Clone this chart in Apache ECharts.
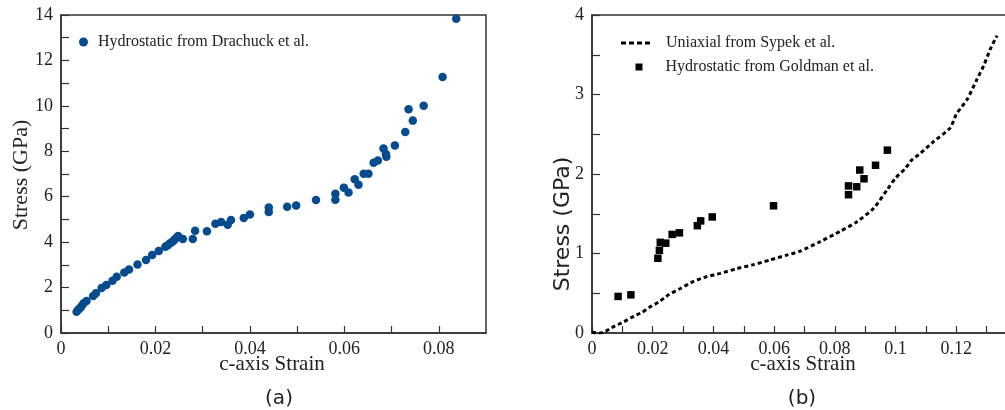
<!DOCTYPE html>
<html><head><meta charset="utf-8">
<script src="https://cdn.jsdelivr.net/npm/echarts@6/dist/echarts.min.js"></script>
<style>html,body{margin:0;padding:0;background:#fff}#c{width:1005px;height:410px}</style>
</head><body><div id="c"></div>
<script>
// Panel (a): hydrostatic data from Drachuck et al.
const drachuckStrain = [0.0033,0.0037,0.0041,0.0044,0.0048,0.0054,0.0068,0.0074,0.0086,0.0096,0.0109,0.0118,0.0134,0.0144,0.0162,0.0180,0.0193,0.0207,0.0221,0.0226,0.0231,0.0236,0.0240,0.0244,0.0248,0.0258,0.0279,0.0284,0.0309,0.0327,0.0339,0.0353,0.0360,0.0387,0.0400,0.0440,0.0440,0.0479,0.0498,0.0540,0.0581,0.0581,0.0599,0.0609,0.0622,0.0630,0.0641,0.0651,0.0662,0.0671,0.0683,0.0688,0.0689,0.0707,0.0729,0.0736,0.0745,0.0768,0.0808,0.0837];
const drachuckStress = [0.94,1.04,1.11,1.20,1.31,1.41,1.63,1.75,1.98,2.11,2.30,2.48,2.66,2.80,3.02,3.21,3.43,3.61,3.80,3.86,3.95,4.02,4.10,4.18,4.27,4.14,4.14,4.50,4.48,4.81,4.89,4.77,4.98,5.06,5.22,5.53,5.33,5.56,5.61,5.86,6.13,5.87,6.40,6.19,6.77,6.53,7.01,7.01,7.50,7.59,8.12,7.88,7.76,8.26,8.85,9.85,9.35,10.00,11.27,13.83];

// Panel (b): uniaxial curve from Sypek et al.
const sypekStrain = [0,0.0027,0.0044,0.0071,0.0104,0.0137,0.0165,0.0192,0.0220,0.0252,0.0291,0.0335,0.0379,0.0423,0.0478,0.0532,0.0587,0.0642,0.0686,0.0752,0.0818,0.0873,0.0928,0.0972,0.1000,0.1032,0.1054,0.1082,0.1126,0.1180,0.1200,0.1236,0.1268,0.1290,0.1312,0.1334];
const sypekStress = [0.01,0.00,0.02,0.08,0.14,0.21,0.26,0.33,0.39,0.48,0.56,0.65,0.71,0.75,0.81,0.86,0.92,0.98,1.03,1.15,1.28,1.40,1.57,1.80,1.95,2.07,2.18,2.26,2.41,2.58,2.75,2.94,3.19,3.36,3.57,3.74];

// Panel (b): hydrostatic data from Goldman et al.
const goldmanStrain = [0.0086,0.0128,0.0217,0.0222,0.0225,0.0243,0.0264,0.0288,0.0347,0.0358,0.0396,0.0598,0.0845,0.0845,0.0872,0.0896,0.0882,0.0934,0.0973];
const goldmanStress = [0.46,0.48,0.94,1.04,1.14,1.13,1.24,1.26,1.35,1.41,1.46,1.60,1.74,1.85,1.84,1.94,2.05,2.11,2.30];

const zip = (a, b) => a.map((v, i) => [v, b[i]]);

const SERIF = '"Liberation Serif", "Times New Roman", serif';
const SANS = '"DejaVu Sans", sans-serif';
const AX = '#333';
const DASH_ICON = 'path://M0,0h5v3h-5zM8,0h5v3h-5zM16,0h5v3h-5zM24,0h5v3h-5z';

function xAxisCfg(gridIndex, max) {
  return {
    type: 'value', gridIndex, min: 0, max, interval: 0.01,
    axisLine: { show: true, onZero: false, lineStyle: { color: AX, width: 1.5 } },
    axisTick: { show: true, inside: true, length: 7, lineStyle: { color: AX, width: 1.2 } },
    splitLine: { show: false },
    axisLabel: {
      margin: 7, color: '#222', fontFamily: SERIF, fontSize: 18,
      showMaxLabel: false,
      formatter: v => {
        const k = Math.round(v * 100);
        if (Math.abs(v * 100 - k) > 1e-6 || k % 2 !== 0) return '';
        return String(parseFloat(v.toFixed(2)));
      }
    }
  };
}
function yAxisCfg(gridIndex, max, interval, labelEvery) {
  return {
    type: 'value', gridIndex, min: 0, max, interval,
    axisLine: { show: true, onZero: false, lineStyle: { color: AX, width: 1.5 } },
    axisTick: { show: true, inside: true, length: 8, lineStyle: { color: AX, width: 1.2 } },
    splitLine: { show: false },
    axisLabel: {
      margin: 8, color: '#222', fontFamily: SERIF, fontSize: 18,
      formatter: v => {
        const r = Math.round(v / labelEvery);
        if (Math.abs(v / labelEvery - r) > 1e-6) return '';
        return String(r * labelEvery);
      }
    }
  };
}

const legendText = { fontFamily: SERIF, fontSize: 16, color: '#222' };

const chart = echarts.init(document.getElementById('c'), null, { renderer: 'canvas' });
chart.setOption({
  backgroundColor: '#fff',
  animation: false,
  grid: [
    { left: 61, top: 15, width: 425, height: 318, outerBoundsMode: 'none', show: true, borderColor: AX, borderWidth: 1.5, backgroundColor: 'transparent' },
    { left: 592, top: 15, width: 425, height: 318, outerBoundsMode: 'none', show: true, borderColor: AX, borderWidth: 1.5, backgroundColor: 'transparent' }
  ],
  xAxis: [xAxisCfg(0, 0.09), xAxisCfg(1, 0.14)],
  yAxis: [yAxisCfg(0, 14, 1, 2), yAxisCfg(1, 4, 0.5, 1)],
  legend: [
    {
      left: 74, top: 29, orient: 'vertical',
      itemWidth: 9, itemHeight: 9,
      textStyle: Object.assign({ padding: [0, 0, 0, 5] }, legendText),
      data: [{ name: 'Hydrostatic from Drachuck et al.', icon: 'circle' }]
    },
    {
      left: 616, top: 30, orient: 'vertical',
      itemWidth: 29, itemHeight: 3,
      textStyle: Object.assign({ padding: [0, 0, 0, 11] }, legendText),
      data: [{ name: 'Uniaxial from Sypek et al.', icon: DASH_ICON, itemStyle: { color: '#000' } }]
    },
    {
      left: 630.5, top: 54, orient: 'vertical',
      itemWidth: 7, itemHeight: 7,
      textStyle: Object.assign({ padding: [0, 0, 0, 18] }, legendText),
      data: [{ name: 'Hydrostatic from Goldman et al.', icon: 'rect' }]
    }
  ],
  series: [
    {
      name: 'Hydrostatic from Drachuck et al.', type: 'scatter', xAxisIndex: 0, yAxisIndex: 0,
      symbol: 'circle', symbolSize: 8.5, itemStyle: { color: '#054b8e', opacity: 1 },
      data: zip(drachuckStrain, drachuckStress)
    },
    {
      name: 'Uniaxial from Sypek et al.', type: 'line', xAxisIndex: 1, yAxisIndex: 1,
      showSymbol: false, symbol: 'none', smooth: 0.2,
      lineStyle: { color: '#000', width: 3, type: [4, 3] },
      itemStyle: { color: '#000' },
      data: zip(sypekStrain, sypekStress)
    },
    {
      name: 'Hydrostatic from Goldman et al.', type: 'scatter', xAxisIndex: 1, yAxisIndex: 1,
      symbol: 'rect', symbolSize: 7.5, itemStyle: { color: '#000', opacity: 1 },
      data: zip(goldmanStrain, goldmanStress)
    }
  ],
  graphic: [
    { type: 'text', x: 21, y: 175, rotation: Math.PI / 2, style: { text: 'Stress (GPa)', font: '22px ' + SERIF, fill: '#222', align: 'center', verticalAlign: 'middle' } },
    { type: 'text', x: 563, y: 224, rotation: Math.PI / 2, style: { text: 'Stress (GPa)', font: '22px ' + SANS, fill: '#222', align: 'center', verticalAlign: 'middle' } },
    { type: 'text', x: 272, y: 364, style: { text: 'c-axis Strain', font: '21px ' + SERIF, fill: '#222', align: 'center', verticalAlign: 'middle' } },
    { type: 'text', x: 803, y: 364, style: { text: 'c-axis Strain', font: '21px ' + SERIF, fill: '#222', align: 'center', verticalAlign: 'middle' } },
    { type: 'text', x: 279, y: 399, style: { text: '(a)', font: '20px ' + SANS, fill: '#222', align: 'center', verticalAlign: 'middle' } },
    { type: 'text', x: 802, y: 399, style: { text: '(b)', font: '20px ' + SANS, fill: '#222', align: 'center', verticalAlign: 'middle' } }
  ]
});
</script></body></html>
